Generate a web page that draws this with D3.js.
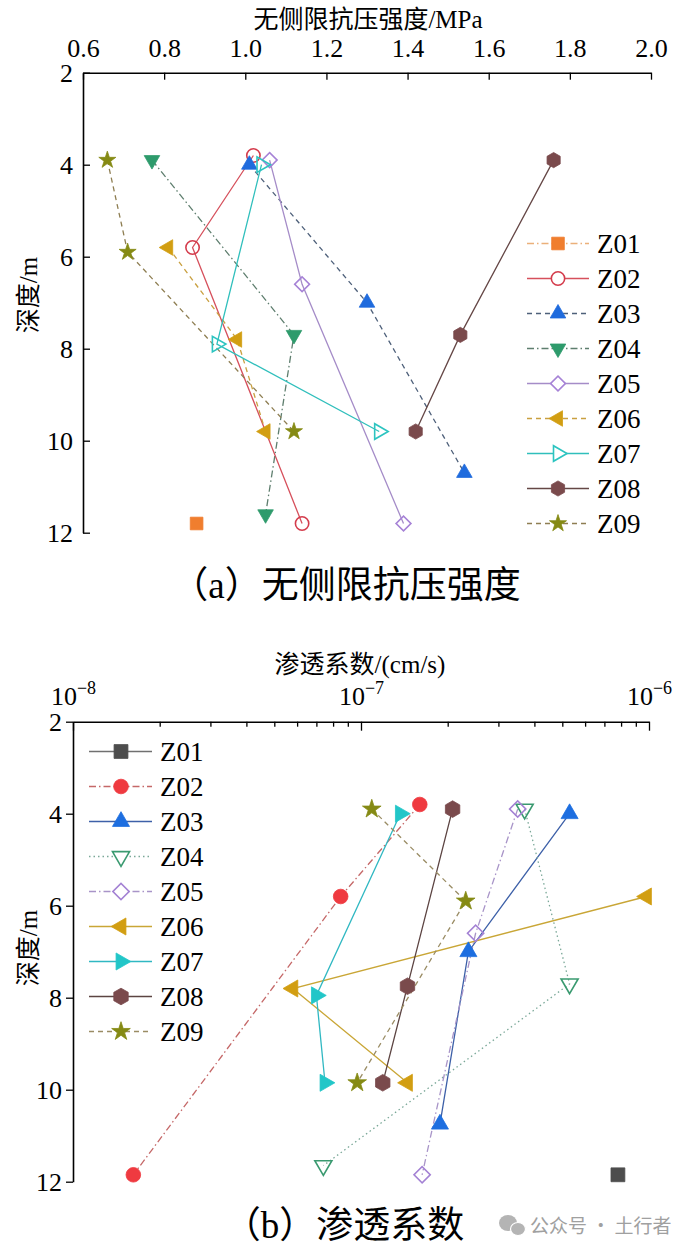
<!DOCTYPE html>
<html><head><meta charset="utf-8">
<script src="https://cdn.jsdelivr.net/npm/d3@7"></script>
<style>body{margin:0;background:#fff}svg{display:block}</style>
</head><body>
<svg id="c" width="676" height="1252"></svg>
<script>
// ---------------- DATA ----------------
const seriesNames = ["Z01","Z02","Z03","Z04","Z05","Z06","Z07","Z08","Z09"];
const depthTicks = [2,4,6,8,10,12];

// (a) unconfined compressive strength (MPa) vs depth (m)
const ucsTicks = [0.6,0.8,1.0,1.2,1.4,1.6,1.8,2.0];
const ucsDepth = [
  [11.8],
  [3.8,5.8,11.8],
  [4.0,7.0,10.7],
  [3.9,7.7,11.6],
  [3.9,6.6,11.8],
  [5.8,7.8,9.8],
  [4.0,7.9,9.8],
  [3.9,7.7,9.8],
  [3.9,5.9,9.8]
];
const ucsValue = [
  [0.88],
  [1.02,0.87,1.14],
  [1.01,1.30,1.54],
  [0.77,1.12,1.05],
  [1.06,1.14,1.39],
  [0.81,0.98,1.05],
  [1.04,0.93,1.33],
  [1.76,1.53,1.42],
  [0.66,0.71,1.12]
];

// (b) permeability coefficient (cm/s) vs depth (m)
const permTicks = [1e-8,1e-7,1e-6];
const permExp = ["−8","−7","−6"];
const permDepth = [
  [11.85],
  [3.8,5.8,11.85],
  [4.0,7.0,10.75],
  [3.9,7.7,11.65],
  [3.9,6.6,11.85],
  [5.8,7.8,9.85],
  [4.0,7.95,9.85],
  [3.9,7.75,9.85],
  [3.9,5.9,9.85]
];
const permValue = [
  [7.8e-7],
  [1.6e-7,8.5e-8,1.62e-8],
  [5.3e-7,2.36e-7,1.88e-7],
  [3.7e-7,5.3e-7,7.4e-8],
  [3.5e-7,2.5e-7,1.63e-7],
  [9.8e-7,5.8e-8,1.45e-7],
  [1.37e-7,7.0e-8,7.5e-8],
  [2.08e-7,1.45e-7,1.19e-7],
  [1.09e-7,2.31e-7,9.7e-8]
];

// ---------------- STYLES ----------------
const SERIF = '"Liberation Serif"';
const MIX = '"Liberation Serif","Noto Sans CJK SC"';
const CJK = '"Noto Sans CJK SC"';
const DASHDOT = "7,3,1.5,3", DASH = "5,4", DOT = "1.5,3", SOLID = null;
const styleA = [
  {shape:"square",  fill:"#F07E2E", stroke:"#F07E2E", line:"#EBB07A", dash:DASHDOT, open:false},
  {shape:"circle",  fill:"none",    stroke:"#D43C4C", line:"#D6505C", dash:SOLID,   open:true},
  {shape:"triUp",   fill:"#1F6BDD", stroke:"#1F6BDD", line:"#4E607A", dash:DASH,    open:false},
  {shape:"triDown", fill:"#2E9B6C", stroke:"#2E9B6C", line:"#5E7E6E", dash:DASHDOT, open:false},
  {shape:"diamond", fill:"none",    stroke:"#A682D6", line:"#A58CC8", dash:SOLID,   open:true},
  {shape:"triLeft", fill:"#D29E12", stroke:"#D29E12", line:"#C9A040", dash:DASH,    open:false},
  {shape:"triRight",fill:"none",    stroke:"#2CC4C0", line:"#30BFBC", dash:SOLID,   open:true},
  {shape:"hex",     fill:"#7A4A4C", stroke:"#7A4A4C", line:"#654746", dash:SOLID,   open:false},
  {shape:"star",    fill:"#858A14", stroke:"#858A14", line:"#8E7E52", dash:DASH,    open:false}
];
const styleB = [
  {shape:"square",  fill:"#4D4D4D", stroke:"#4D4D4D", line:"#707070", dash:SOLID,   open:false},
  {shape:"circle",  fill:"#EF3A40", stroke:"#EF3A40", line:"#C56868", dash:DASHDOT, open:false},
  {shape:"triUp",   fill:"#1D6EE0", stroke:"#1D6EE0", line:"#3D60A8", dash:SOLID,   open:false},
  {shape:"triDown", fill:"none",    stroke:"#3A9A70", line:"#7AA898", dash:DOT,     open:true},
  {shape:"diamond", fill:"none",    stroke:"#A482D4", line:"#A894C8", dash:DASHDOT, open:true},
  {shape:"triLeft", fill:"#D29E12", stroke:"#D29E12", line:"#C9A636", dash:SOLID,   open:false},
  {shape:"triRight",fill:"#22C6C8", stroke:"#22C6C8", line:"#30B8C2", dash:SOLID,   open:false},
  {shape:"hex",     fill:"#7A4A4C", stroke:"#7A4A4C", line:"#5C4442", dash:SOLID,   open:false},
  {shape:"star",    fill:"#858A14", stroke:"#858A14", line:"#9A8C64", dash:DASH,    open:false}
];

// ---------------- MARKERS ----------------
const hexType = { draw(ctx, size){ const r = Math.sqrt(size/(1.5*Math.sqrt(3)));
  for(let i=0;i<6;i++){ const a = Math.PI/2 + i*Math.PI/3; const px=r*Math.cos(a), py=r*Math.sin(a);
    if(i===0) ctx.moveTo(px,py); else ctx.lineTo(px,py);} ctx.closePath(); } };
function marker(shape, k){
  k = k || 1;
  switch(shape){
    case "square":  return {d:d3.symbol(d3.symbolSquare,160*k)(), rot:0};
    case "circle":  return {d:d3.symbol(d3.symbolCircle,140*k)(), rot:0};
    case "triUp":   return {d:d3.symbol(d3.symbolTriangle,105*k)(), rot:0};
    case "triDown": return {d:d3.symbol(d3.symbolTriangle,105*k)(), rot:180};
    case "triLeft": return {d:d3.symbol(d3.symbolTriangle,105*k)(), rot:-90};
    case "triRight":return {d:d3.symbol(d3.symbolTriangle,105*k)(), rot:90};
    case "diamond": return {d:d3.symbol(d3.symbolSquare,110*k)(), rot:45};
    case "hex":     return {d:d3.symbol(hexType,150*k)(), rot:0};
    case "star":    return {d:d3.symbol(d3.symbolStar,90*k)(), rot:0};
  }
}

const svg = d3.select("#c");

function drawPanel(cfg){
  const g = svg.append("g");
  const x = cfg.x, y = cfg.y;
  seriesNames.forEach((name,i)=>{
    const st = cfg.styles[i];
    const pts = cfg.depth[i].map((d,j)=>[cfg.value[i][j], d]);
    if(pts.length>1){
      g.append("path").attr("d", d3.line().x(p=>x(p[0])).y(p=>y(p[1]))(pts))
        .attr("fill","none").attr("stroke",st.line).attr("stroke-width",1.3)
        .attr("stroke-dasharray",st.dash);
    }
  });
  seriesNames.forEach((name,i)=>{
    const st = cfg.styles[i]; const m = marker(st.shape, cfg.k);
    const pts = cfg.depth[i].map((d,j)=>[cfg.value[i][j], d]);
    g.selectAll(null).data(pts).join("path")
      .attr("d", m.d)
      .attr("transform", p=>`translate(${x(p[0])},${y(p[1])}) rotate(${m.rot})`)
      .attr("fill", st.fill).attr("stroke", st.stroke)
      .attr("stroke-width", st.open?1.6:0.8);
  });
  const L = cfg.legend;
  seriesNames.forEach((name,i)=>{
    const st = cfg.styles[i]; const m = marker(st.shape, cfg.k);
    const yy = L.y0 + i*L.dy;
    g.append("line").attr("x1",L.x1).attr("x2",L.x2).attr("y1",yy).attr("y2",yy)
      .attr("stroke",st.line).attr("stroke-width",1.3).attr("stroke-dasharray",st.dash);
    g.append("path").attr("d",m.d).attr("transform",`translate(${L.xm},${yy}) rotate(${m.rot})`)
      .attr("fill", st.open?"#fff":st.fill).attr("stroke",st.stroke).attr("stroke-width", st.open?1.6:0.8);
    g.append("text").style("font-family",SERIF).attr("x",L.xt).attr("y",yy+9).text(name)
      .attr("font-size",27).attr("fill","#000");
  });
}

// ---------------- PANEL (a) ----------------
const xA = d3.scaleLinear().domain([0.6,2.0]).range([83,651]);
const yA = d3.scaleLinear().domain([2,12]).range([72.7,532.7]);
drawPanel({x:xA, y:yA, depth:ucsDepth, value:ucsValue, styles:styleA, k:1,
  legend:{x1:527,x2:589,xm:558,xt:597,y0:243.5,dy:35}});

const axTopA = svg.append("g").attr("transform","translate(0,72.7)")
  .call(d3.axisTop(xA).tickValues(ucsTicks).tickFormat(d3.format(".1f")).tickSize(-7).tickSizeOuter(0).tickPadding(16));
const axLeftA = svg.append("g").attr("transform","translate(83,0)")
  .call(d3.axisLeft(yA).tickValues(depthTicks).tickFormat(d3.format("d")).tickSize(-7).tickSizeOuter(0).tickPadding(10));

// ---------------- PANEL (b) ----------------
const xB = d3.scaleLog().domain([1e-8,1e-6]).range([73,649]);
const yB = d3.scaleLinear().domain([2,12]).range([721.7,1181.7]);
drawPanel({x:xB, y:yB, depth:permDepth, value:permValue, styles:styleB, k:1.2,
  legend:{x1:89,x2:152,xm:121,xt:160,y0:751.5,dy:35}});

const minorB = [];
[1e-8,1e-7].forEach(dec=>{ for(let k=2;k<=9;k++) minorB.push(k*dec); });
svg.append("g").attr("transform","translate(0,721.7)")
  .call(d3.axisTop(xB).tickValues(minorB).tickFormat("").tickSize(-5).tickSizeOuter(0))
  .call(g=>g.select(".domain").remove());
const axTopB = svg.append("g").attr("transform","translate(0,721.7)")
  .call(d3.axisTop(xB).tickValues(permTicks).tickFormat(()=> "").tickSize(-9).tickSizeOuter(0).tickPadding(17));
axTopB.selectAll(".tick text").each(function(d,i){
  const t = d3.select(this);
  t.text(null);
  t.append("tspan").text("10");
  t.append("tspan").attr("dy",-11).attr("font-size",18).text(permExp[i]);
});
const axLeftB = svg.append("g").attr("transform","translate(73,0)")
  .call(d3.axisLeft(yB).tickValues(depthTicks).tickFormat(d3.format("d")).tickSize(7).tickSizeOuter(0).tickPadding(4));

[axTopA, axLeftA, axTopB, axLeftB].forEach(a=>{
  a.attr("font-family",null);
  a.selectAll("text").style("font-family",SERIF).attr("font-size",26).attr("fill","#000");
  a.select(".domain").attr("stroke","#000").attr("stroke-width",1.6);
});
svg.selectAll(".tick line").attr("stroke","#000").attr("stroke-width",1.3);
axTopB.selectAll(".tick text tspan:last-child").attr("font-size",18);

// ---------------- TITLES ----------------
function label(xp, yp, str, size, rot){
  const t = svg.append("text").style("font-family",MIX).attr("x",xp).attr("y",yp).attr("text-anchor","middle")
    .attr("font-size",size).attr("fill","#000").text(str);
  if(rot) t.attr("transform",`rotate(${rot},${xp},${yp})`);
  return t;
}
label(368, 28, "无侧限抗压强度/MPa", 25);
label(37, 295, "深度/m", 25, -90);
label(346, 598, "（a）无侧限抗压强度", 37);

label(360, 673, "渗透系数/(cm/s)", 25);
label(37, 948, "深度/m", 25, -90);
label(344, 1238, "（b）渗透系数", 37);

// watermark
const wm = svg.append("g").attr("fill","#b4b4b4");
wm.append("ellipse").attr("cx",508).attr("cy",1223).attr("rx",9).attr("ry",8);
wm.append("ellipse").attr("cx",518).attr("cy",1229).attr("rx",7.5).attr("ry",6.5).attr("stroke","#fff").attr("stroke-width",1.2);
svg.append("text").style("font-family",CJK).attr("x",530).attr("y",1233).attr("font-size",19)
  .attr("fill","#a0a0a0").text("公众号 · 土行者");
</script>
</body></html>
